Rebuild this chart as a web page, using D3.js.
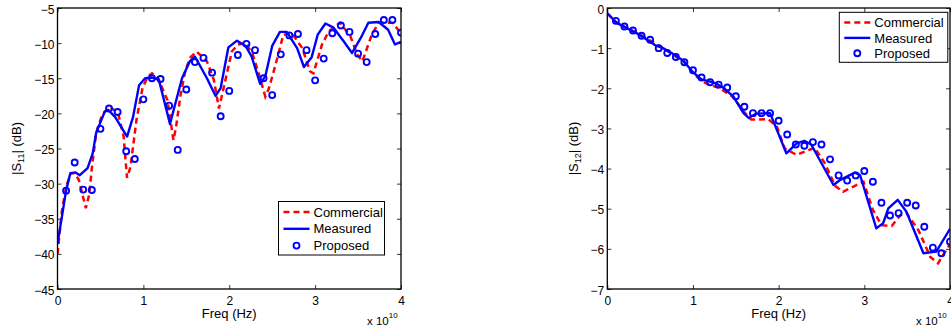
<!DOCTYPE html>
<html>
<head>
<meta charset="utf-8">
<script src="https://cdn.jsdelivr.net/npm/d3@7"></script>
<style>
  body { margin: 0; background: #fff; }
  svg { display: block; font-family: "Liberation Sans", Arial, Helvetica, sans-serif; }
</style>
</head>
<body>
<svg id="chart" width="951" height="331"></svg>
<script>
// frequency in units of 1e10 Hz
const markFreq = [0.1, 0.2, 0.3, 0.4, 0.5, 0.6, 0.7, 0.8, 0.9, 1.0,
  1.1, 1.2, 1.3, 1.4, 1.5, 1.6, 1.7, 1.8, 1.9, 2.0,
  2.1, 2.2, 2.3, 2.4, 2.5, 2.6, 2.7, 2.8, 2.9, 3.0,
  3.1, 3.2, 3.3, 3.4, 3.5, 3.6, 3.7, 3.8, 3.9, 4.0];

// |S11|
const s11CommFreq = [0, 0.05, 0.1, 0.15, 0.2, 0.25, 0.3, 0.33, 0.37, 0.4, 0.45, 0.52, 0.6, 0.65, 0.71, 0.77, 0.81, 0.85, 0.92, 0.99,
  1.05, 1.1, 1.17, 1.28, 1.35, 1.38, 1.43, 1.49, 1.55, 1.62, 1.74, 1.82, 1.88, 1.96, 2.03, 2.1, 2.19, 2.27, 2.34, 2.42,
  2.46, 2.53, 2.63, 2.73, 2.85, 2.94, 2.98, 3.08, 3.16, 3.29, 3.41, 3.49, 3.55, 3.66, 3.74, 3.9, 4.0];
const s11Comm = [-40, -34, -30.5, -28.6, -28.5, -29.5, -32, -33.5, -31.5, -27.8, -22.8, -20.2, -19.1, -19.4, -20.2, -23.3, -29.2, -27.6, -20.9, -16.4,
  -14.8, -14.3, -15, -18.1, -23.8, -22, -17.6, -13.8, -12, -11.2, -12.6, -15.2, -19.3, -15, -11.2, -10.2, -10, -11.5, -14.2, -17.6,
  -16.5, -13.5, -8.8, -8.6, -10.7, -14, -14.3, -10.2, -8.3, -7.1, -9.0, -11.6, -12.6, -8.8, -7.1, -7.1, -8.6];

const s11MeasFreq = [0, 0.1, 0.15, 0.21, 0.26, 0.35, 0.41, 0.45, 0.55, 0.59, 0.67, 0.81, 0.88, 0.95, 1.02, 1.1, 1.18, 1.31, 1.45, 1.54,
  1.6, 1.74, 1.84, 1.9, 1.99, 2.09, 2.19, 2.26, 2.36, 2.42, 2.5, 2.59, 2.67, 2.79, 2.87, 2.96, 3.03, 3.12, 3.21, 3.33,
  3.43, 3.53, 3.62, 3.74, 3.85, 3.93, 4.0];
const s11Meas = [-38.6, -31, -28.5, -28.4, -28.8, -27.8, -25.7, -22.8, -19.75, -19.5, -20.5, -23.3, -20.5, -16, -15, -14.9, -15.2, -21.5, -15, -12.6,
  -11.9, -15, -17.5, -16.4, -10.6, -9.65, -10.4, -11.9, -15.8, -14.7, -10.4, -8.4, -8.4, -10.7, -13.4, -12.0, -8.8, -7.2, -7.75, -9.7,
  -11.4, -9.3, -7.1, -7.0, -8.1, -10.2, -9.8];

const s11Prop = [-31.0, -27.0, -30.85, -30.9, -22.2, -19.3, -19.8, -25.4, -26.5, -18.0,
  -15.0, -15.1, -18.9, -25.2, -16.6, -12.7, -12.1, -14.2, -20.4, -16.8,
  -11.7, -10.1, -11.0, -15.0, -17.4, -11.6, -8.9, -8.7, -11.0, -15.3,
  -12.2, -8.6, -7.5, -8.4, -11.5, -12.7, -8.7, -6.7, -6.7, -8.5];

// |S12|
const s12CommFreq = [0, 0.11, 0.38, 0.65, 0.89, 1.0, 1.1, 1.2, 1.3, 1.47, 1.6, 1.68, 1.88, 1.98, 2.07, 2.21, 2.35, 2.42, 2.54, 2.66,
  2.75, 2.89, 2.99, 3.1, 3.2, 3.32, 3.42, 3.49, 3.63, 3.77, 3.86, 3.98, 4.0];
const s12Comm = [-0.13, -0.37, -0.66, -1.0, -1.33, -1.62, -1.82, -1.93, -1.98, -2.22, -2.6, -2.78, -2.77, -2.96, -3.5, -3.66, -3.54, -3.48, -3.87, -4.43,
  -4.58, -4.43, -4.33, -5.03, -5.41, -5.43, -5.16, -5.1, -5.53, -6.2, -6.36, -5.95, -5.9];

const s12MeasFreq = [0, 0.11, 0.38, 0.56, 0.65, 0.79, 0.89, 1.0, 1.1, 1.26, 1.35, 1.47, 1.59, 1.65, 1.74, 1.9, 2.09, 2.21, 2.3, 2.38,
  2.64, 2.72, 2.89, 2.95, 3.14, 3.22, 3.28, 3.39, 3.49, 3.69, 3.84, 4.0];
const s12Meas = [-0.13, -0.37, -0.67, -0.93, -1.0, -1.17, -1.32, -1.6, -1.78, -1.87, -1.98, -2.2, -2.62, -2.74, -2.63, -2.62, -3.62, -3.37, -3.31, -3.4,
  -4.41, -4.28, -4.1, -4.16, -5.49, -5.36, -4.99, -4.78, -5.07, -6.11, -6.07, -5.5];

const s12Prop = [-0.32, -0.46, -0.56, -0.69, -0.79, -1.0, -1.12, -1.22, -1.35, -1.55,
  -1.73, -1.85, -1.91, -1.98, -2.2, -2.46, -2.62, -2.62, -2.62, -2.81,
  -3.15, -3.4, -3.43, -3.34, -3.4, -3.77, -4.17, -4.3, -4.17, -4.06,
  -4.33, -4.85, -5.17, -5.11, -4.85, -4.92, -5.45, -5.97, -6.11, -5.82];

const xTicks = [0, 1, 2, 3, 4];
const s11Ticks = [-45, -40, -35, -30, -25, -20, -15, -10, -5];
const s12Ticks = [-7, -6, -5, -4, -3, -2, -1, 0];
const legendNames = ['Commercial', 'Measured', 'Proposed'];

const svg = d3.select('#chart');

function panel(opt) {
  const x = d3.scaleLinear().domain([0, 4]).range([opt.left, opt.right]);
  const y = d3.scaleLinear().domain(opt.yDomain).range([opt.bottom, opt.top]);
  const g = svg.append('g');
  const clipId = 'clip' + opt.id;
  g.append('clipPath').attr('id', clipId)
    .append('rect')
    .attr('x', opt.left).attr('y', opt.top)
    .attr('width', opt.right - opt.left).attr('height', opt.bottom - opt.top);

  // axes with inward ticks
  const fmt = d3.format('d');
  g.append('g').attr('transform', `translate(0,${opt.bottom})`)
    .call(d3.axisBottom(x).tickValues(xTicks).tickFormat(fmt).tickSizeInner(-4).tickSizeOuter(0).tickPadding(7));
  g.append('g').attr('transform', `translate(0,${opt.top})`)
    .call(d3.axisTop(x).tickValues(xTicks).tickFormat('').tickSizeInner(-4).tickSizeOuter(0));
  g.append('g').attr('transform', `translate(${opt.left},0)`)
    .call(d3.axisLeft(y).tickValues(opt.yTicks).tickFormat(fmt).tickSizeInner(-4).tickSizeOuter(0).tickPadding(3));
  g.append('g').attr('transform', `translate(${opt.right},0)`)
    .call(d3.axisRight(y).tickValues(opt.yTicks).tickFormat('').tickSizeInner(-4).tickSizeOuter(0));
  g.selectAll('.domain').remove();
  g.selectAll('.tick line').attr('stroke', '#000').attr('stroke-width', 0.8);
  g.selectAll('.tick text').attr('font-size', 12).attr('fill', '#000')
    .attr('font-family', '"Liberation Sans", Arial, Helvetica, sans-serif');
  g.selectAll('.tick text').filter(function () { return this.getAttribute('dy') === '0.32em'; }).attr('dy', '0.42em');

  // data
  const plot = g.append('g').attr('clip-path', `url(#${clipId})`);
  const line = d3.line().x(d => x(d[0])).y(d => y(d[1]));
  plot.append('path')
    .datum(opt.commFreq.map((f, i) => [f, opt.comm[i]]))
    .attr('d', line).attr('fill', 'none')
    .attr('stroke', '#ff0000').attr('stroke-width', 2.5).attr('stroke-dasharray', '6,4');
  plot.append('path')
    .datum(opt.measFreq.map((f, i) => [f, opt.meas[i]]))
    .attr('d', line).attr('fill', 'none')
    .attr('stroke', '#0000ff').attr('stroke-width', 2.4).attr('stroke-linejoin', 'round');
  plot.append('g').selectAll('circle')
    .data(markFreq.map((f, i) => [f, opt.prop[i]]))
    .join('circle')
    .attr('cx', d => x(d[0])).attr('cy', d => y(d[1])).attr('r', 3)
    .attr('fill', 'none').attr('stroke', '#0000ff').attr('stroke-width', 1.9);

  // frame
  g.append('rect')
    .attr('x', opt.left).attr('y', opt.top)
    .attr('width', opt.right - opt.left).attr('height', opt.bottom - opt.top)
    .attr('fill', 'none').attr('stroke', '#000').attr('stroke-width', 1.3);

  // labels
  g.append('text')
    .attr('x', (opt.left + opt.right) / 2).attr('y', 318)
    .attr('text-anchor', 'middle').attr('font-size', 13)
    .text('Freq (Hz)');
  const ex = g.append('text').attr('x', opt.right - 34).attr('y', 325).attr('font-size', 11.5);
  ex.append('tspan').text('x 10');
  ex.append('tspan').attr('font-size', 8).attr('dy', -7).text('10');

  const yl = g.append('text')
    .attr('transform', `translate(${opt.ylabelX},${(opt.top + opt.bottom) / 2}) rotate(-90)`)
    .attr('text-anchor', 'middle').attr('font-size', 13);
  yl.append('tspan').text('|S');
  yl.append('tspan').attr('font-size', 9).attr('dy', 3).text(opt.sub);
  yl.append('tspan').attr('dy', -3).text('| (dB)');

  // legend
  const L = opt.legend;
  const lg = g.append('g');
  lg.append('rect')
    .attr('x', L.x).attr('y', L.y).attr('width', L.w).attr('height', L.h)
    .attr('fill', '#fff').attr('stroke', '#000').attr('stroke-width', 1);
  legendNames.forEach((name, i) => {
    const cy = L.y + L.first + i * L.step;
    const sx0 = L.x + 5, sx1 = L.x + 31;
    if (i === 0) {
      lg.append('line').attr('x1', sx0).attr('x2', sx1).attr('y1', cy).attr('y2', cy)
        .attr('stroke', '#ff0000').attr('stroke-width', 2.5).attr('stroke-dasharray', '6,4');
    } else if (i === 1) {
      lg.append('line').attr('x1', sx0).attr('x2', sx1).attr('y1', cy).attr('y2', cy)
        .attr('stroke', '#0000ff').attr('stroke-width', 2.4);
    } else {
      lg.append('circle').attr('cx', (sx0 + sx1) / 2).attr('cy', cy).attr('r', 3)
        .attr('fill', 'none').attr('stroke', '#0000ff').attr('stroke-width', 1.9);
    }
    lg.append('text').attr('x', L.x + 35).attr('y', cy).attr('dy', '0.36em')
      .attr('font-size', 13).text(name);
  });
}

panel({
  id: 'a', left: 57.5, right: 401, top: 8, bottom: 289,
  yDomain: [-45, -5], yTicks: s11Ticks, sub: '11', ylabelX: 21,
  commFreq: s11CommFreq, comm: s11Comm, measFreq: s11MeasFreq, meas: s11Meas, prop: s11Prop,
  legend: { x: 278.5, y: 201.5, w: 106, h: 53.5, first: 10.5, step: 16.8 }
});

panel({
  id: 'b', left: 607.3, right: 950, top: 8, bottom: 289,
  yDomain: [-7, 0], yTicks: s12Ticks, sub: '12', ylabelX: 578,
  commFreq: s12CommFreq, comm: s12Comm, measFreq: s12MeasFreq, meas: s12Meas, prop: s12Prop,
  legend: { x: 839.3, y: 12.3, w: 108.5, h: 50, first: 10.3, step: 15.3 }
});
</script>
</body>
</html>
